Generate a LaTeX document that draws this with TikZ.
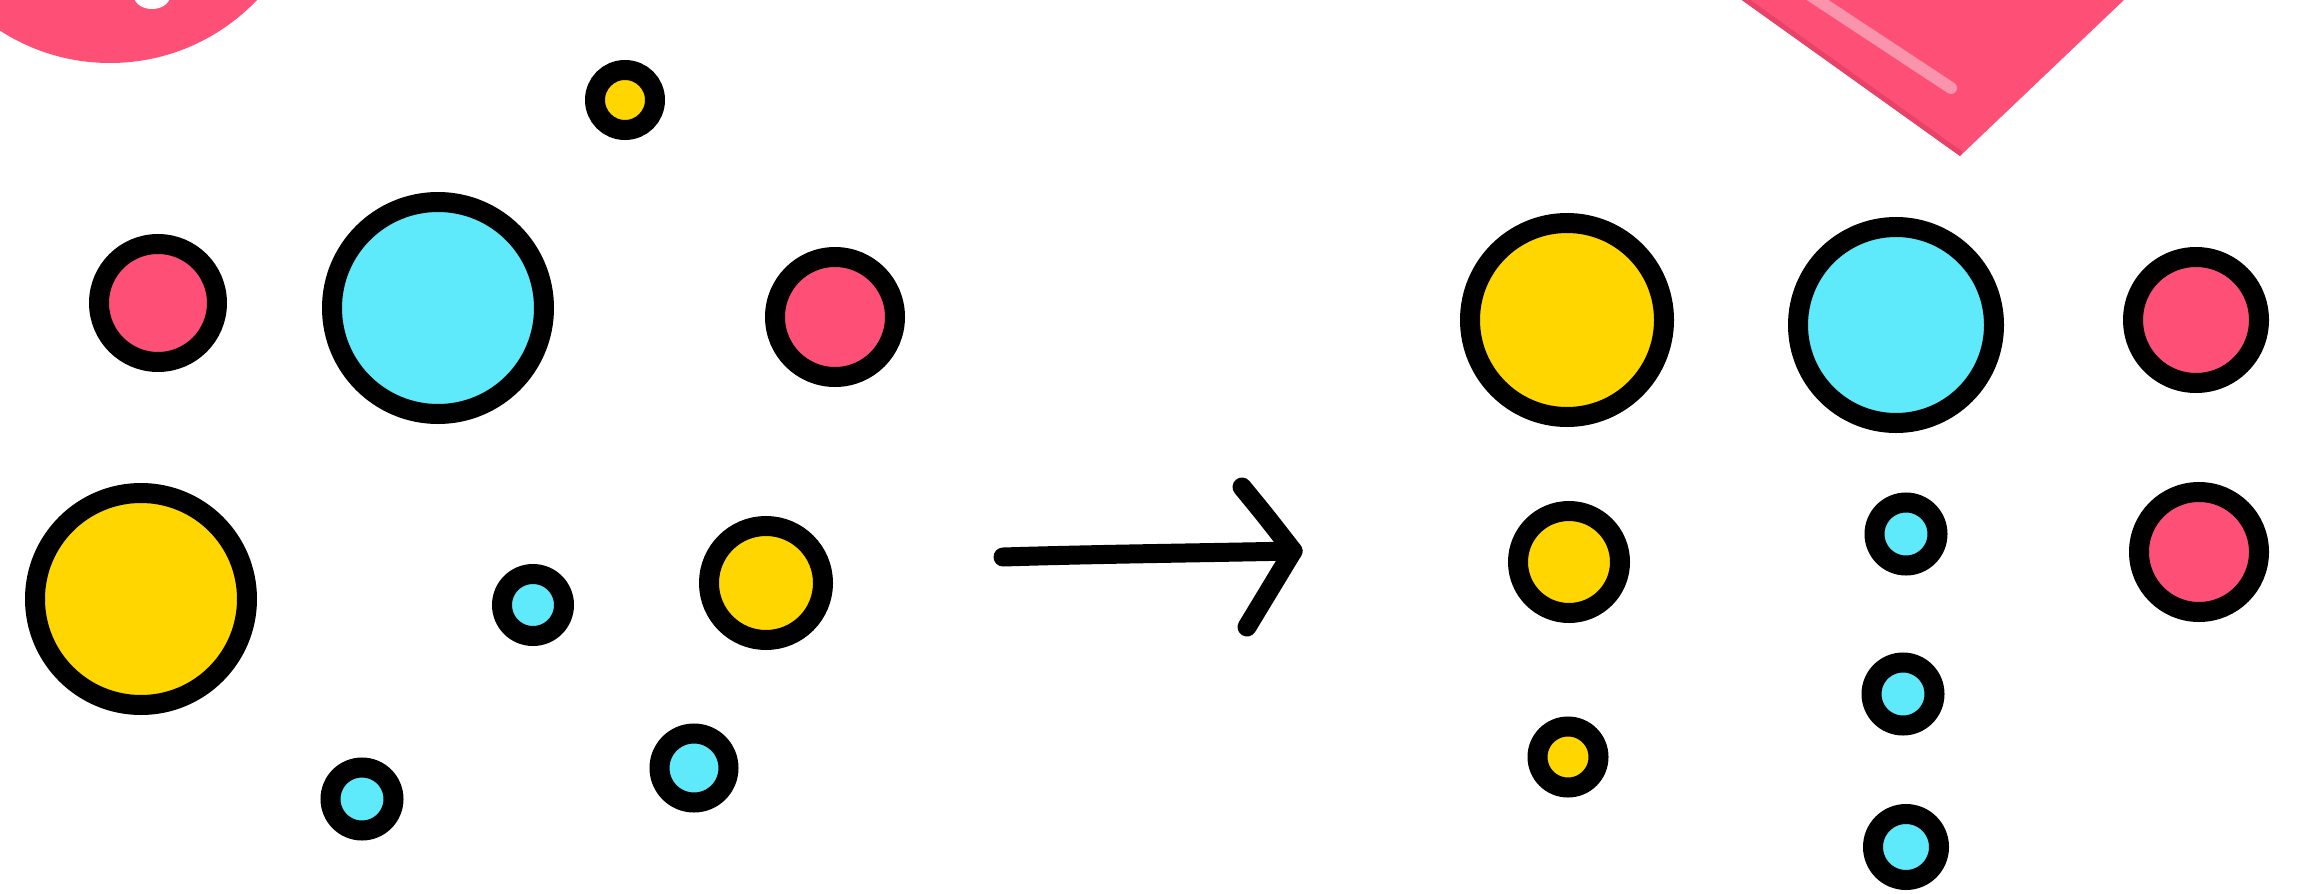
\documentclass[tikz,border=0pt]{standalone}
\definecolor{pinkc}{RGB}{254,80,118}
\definecolor{pinkdark}{RGB}{232,66,104}
\definecolor{pinklight}{RGB}{250,148,172}
\definecolor{cyanc}{RGB}{94,234,251}
\definecolor{yellowc}{RGB}{255,214,0}
\begin{document}
\begin{tikzpicture}[x=1pt,y=-1pt,
  dot/.style={circle, draw=black, line width=20pt, inner sep=0pt},
  pk/.style={dot, fill=pinkc},
  cy/.style={dot, fill=cyanc},
  ye/.style={dot, fill=yellowc},
  arrowline/.style={draw=black, line width=19pt, line cap=round, line join=round}]
\useasboundingbox (0,0) rectangle (2297,894);
\clip (0,0) rectangle (2297,894);
\fill[white] (0,0) rectangle (2297,894);
% decorative corner shapes
\fill[pinkc] (110,-140) circle[radius=203pt];
\fill[white] (152,-4) ellipse[x radius=18pt, y radius=13pt];
\fill[pinkc] (1602,-100) -- (1960,156) -- (2229,-100) -- cycle;
\begin{scope}
  \clip (1602,-100) -- (1960,156) -- (2229,-100) -- cycle;
  \draw[pinkdark, line width=10pt] (1602,-100) -- (1960,156);
\end{scope}
\draw[pinklight, line width=12pt, line cap=round] (1810,-5) -- (1951,88);
% left group
\node[ye, minimum size=60pt]  (l1) at (625,100) {};
\node[pk, minimum size=118pt] (l2) at (158,303) {};
\node[cy, minimum size=212pt] (l3) at (438,308) {};
\node[pk, minimum size=120pt] (l4) at (835,317) {};
\node[ye, minimum size=212pt] (l5) at (141,599) {};
\node[cy, minimum size=62pt]  (l6) at (533,605) {};
\node[ye, minimum size=114pt] (l7) at (766,583) {};
\node[cy, minimum size=63pt]  (l8) at (362,799) {};
\node[cy, minimum size=69pt]  (l9) at (694,768) {};
% right group
\node[ye, minimum size=194pt] (r1) at (1567,320) {};
\node[cy, minimum size=196pt] (r2) at (1896,325) {};
\node[pk, minimum size=126pt] (r3) at (2196,320) {};
\node[ye, minimum size=102pt] (r4) at (1569,562) {};
\node[cy, minimum size=63pt]  (r5) at (1906,534) {};
\node[pk, minimum size=120pt] (r6) at (2199,552) {};
\node[ye, minimum size=61pt]  (r7) at (1568,757) {};
\node[cy, minimum size=63pt]  (r8) at (1903,694) {};
\node[cy, minimum size=66pt]  (r9) at (1906,847) {};
% arrow
\coordinate (a1) at (1003,557);
\coordinate (a2) at (1293,551);
\coordinate (h1) at (1242,487);
\coordinate (h2) at (1247,627);
\draw[arrowline] (a1) .. controls (1100,554) and (1200,553) .. (a2);
\draw[arrowline] (h1) .. controls (1265,515) .. (a2) -- (h2);
\end{tikzpicture}
\end{document}
